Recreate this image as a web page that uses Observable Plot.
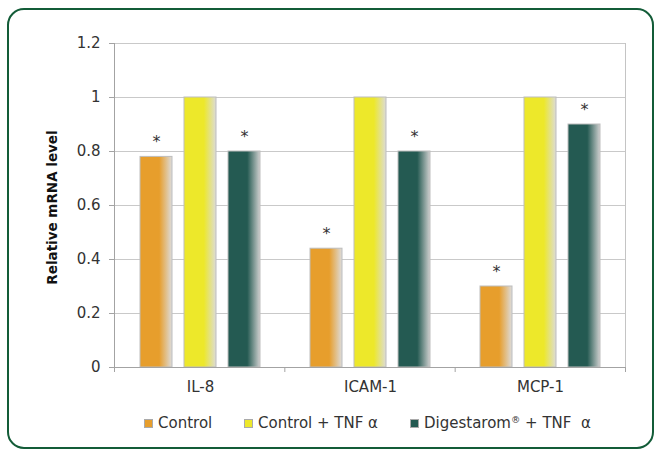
<!DOCTYPE html>
<html>
<head>
<meta charset="utf-8">
<script src="https://cdn.jsdelivr.net/npm/d3@7"></script>
<script src="https://cdn.jsdelivr.net/npm/@observablehq/plot@0.6"></script>
<style>
  html, body { margin: 0; padding: 0; background: #fff; }
  #wrap { position: relative; width: 656px; height: 450px; overflow: hidden; font-family: "DejaVu Sans", Verdana, sans-serif; }
  #wrap svg.layer { position: absolute; left: 0; top: 0; }
  #border { position: absolute; left: 7px; top: 8px; width: 647px; height: 441px; box-sizing: border-box;
            border: 2.5px solid #135c38; border-radius: 17px; pointer-events: none; }
  .leg { position: absolute; top: 414px; font-size: 15px; color: #333; white-space: nowrap; display: flex; align-items: center; height: 18px; }
  .sw { width: 7px; height: 7px; border: 0.5px solid #aaa; margin-right: 5px; }
  sup { font-size: 0.62em; vertical-align: 0.55em; line-height: 0; }
</style>
</head>
<body>
<svg width="0" height="0" style="position:absolute">
  <defs>
    <linearGradient id="gOrange" x1="0" x2="1" y1="0" y2="0">
      <stop offset="0" stop-color="#E79E2C"/>
      <stop offset="0.6" stop-color="#E79E2C"/>
      <stop offset="1" stop-color="#DCDCDC"/>
    </linearGradient>
    <linearGradient id="gYellow" x1="0" x2="1" y1="0" y2="0">
      <stop offset="0" stop-color="#EDE82A"/>
      <stop offset="0.62" stop-color="#EDE82A"/>
      <stop offset="1" stop-color="#DCDCD6"/>
    </linearGradient>
    <linearGradient id="gGreen" x1="0" x2="1" y1="0" y2="0">
      <stop offset="0" stop-color="#245A52"/>
      <stop offset="0.6" stop-color="#245A52"/>
      <stop offset="1" stop-color="#CFCFCF"/>
    </linearGradient>
  </defs>
</svg>
<div id="wrap"></div>
<script>
const genes = ["IL-8", "ICAM-1", "MCP-1"];
const series = ["Control", "Control + TNF α", "Digestarom® + TNF α"];
const control = [0.78, 0.44, 0.30];
const controlTnf = [1.0, 1.0, 1.0];
const digestaromTnf = [0.80, 0.80, 0.90];
const asterisk = ["*", "", "*"];            // significance mark per series
const yTicks = [0, 0.2, 0.4, 0.6, 0.8, 1, 1.2];
const seriesColors = ["#E79E2C", "#EDE82A", "#245A52"];
const gradientIds = ["gOrange", "gYellow", "gGreen"];
const yLabel = "Relative mRNA level";

const valuesBySeries = [control, controlTnf, digestaromTnf];
const rows = genes.flatMap((g, i) => valuesBySeries.map((vals, j) => ({
  gene: g, series: series[j], value: vals[i], star: asterisk[j]
})));

const W = 656, H = 400;
const margins = { marginLeft: 114, marginRight: 31, marginTop: 43, marginBottom: 33 };
const font = { fontFamily: "DejaVu Sans, Verdana, sans-serif", fontSize: "15px", background: "transparent", color: "#333" };

const main = Plot.plot({
  width: W, height: H, ...margins,
  style: font,
  fx: { domain: genes, padding: 0 },
  x: { domain: series, paddingInner: 0.278, paddingOuter: 0.53, axis: null },
  y: { domain: [0, 1.2], axis: null },
  color: { domain: series, range: gradientIds.map(id => `url(#${id})`) },
  marks: [
    Plot.gridY(yTicks, { stroke: "#c9c9c9", strokeOpacity: 1 }),
    Plot.barY(rows, { fx: "gene", x: "series", y: "value", fill: "series", stroke: "#bdbdbd", strokeWidth: 1 }),
    Plot.text(rows.filter(d => d.star), { fx: "gene", x: "series", y: "value", text: "star", dy: -15, fontSize: 16, fill: "#333" }),
    Plot.axisFx({ anchor: "bottom", tickSize: 0, tickPadding: 14, label: null, fontSize: 15 })
  ]
});
main.classList.add("layer");

const overlay = Plot.plot({
  width: W, height: H, ...margins,
  style: font,
  x: { domain: [0, genes.length] },
  y: { domain: [0, 1.2] },
  marks: [
    Plot.ruleX([genes.length], { stroke: "#c4c4c4" }),
    Plot.ruleY([0], { stroke: "#a3a3a3" }),
    Plot.ruleX([0], { stroke: "#a3a3a3" }),
    Plot.axisX(d3.range(genes.length + 1), { tickSize: 5, tickFormat: () => "", label: null, stroke: "#a3a3a3" }),
    Plot.axisY(yTicks, { tickSize: 5, tickPadding: 9, tickFormat: d => String(d), label: null, stroke: "#a3a3a3", fontSize: 15 }),
    Plot.text([yLabel], { frameAnchor: "left", textAnchor: "middle", rotate: -90, dx: -62, dy: 2, fontWeight: "bold", fontSize: 13.5, fill: "#111" })
  ]
});
overlay.classList.add("layer");

const wrap = document.getElementById("wrap");
wrap.appendChild(main);
wrap.appendChild(overlay);

// legend
const legendLeft = [144, 244, 410];
series.forEach((s, i) => {
  const item = document.createElement("div");
  item.className = "leg";
  item.style.left = legendLeft[i] + "px";
  const sw = document.createElement("div");
  sw.className = "sw";
  sw.style.background = seriesColors[i];
  const label = document.createElement("span");
  if (s.includes("®")) {
    const [a, b] = s.split("®");
    label.innerHTML = a + "<sup>®</sup>" + b.replace(" α", "&nbsp; α");
  } else {
    label.textContent = s;
  }
  item.appendChild(sw);
  item.appendChild(label);
  wrap.appendChild(item);
});

const border = document.createElement("div");
border.id = "border";
wrap.appendChild(border);
</script>
</body>
</html>
